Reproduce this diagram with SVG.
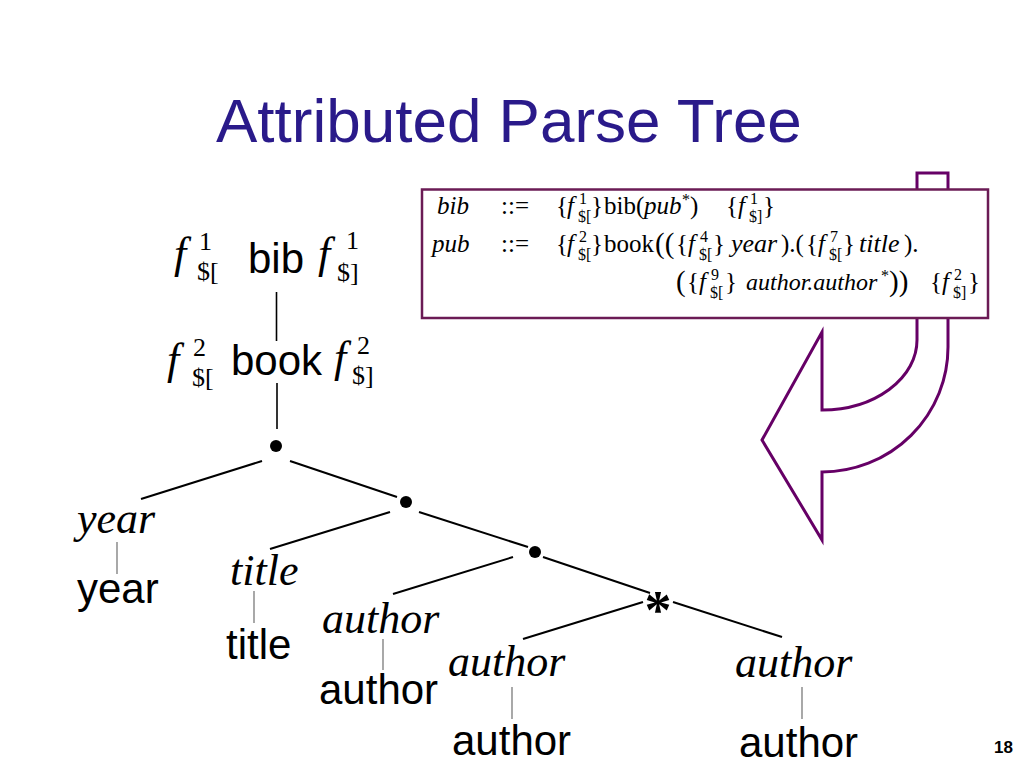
<svg xmlns="http://www.w3.org/2000/svg" width="1024" height="768" viewBox="0 0 1024 768">
<style>
.sans{font-family:"Liberation Sans",Arial,sans-serif;fill:#000}
.lbl{font-size:42px}
.ser{font-family:"Liberation Serif","Times New Roman",serif;fill:#000}
.it{font-style:italic}
.big{font-size:44px}
.g{font-size:25px}
.gi{font-size:26px}
.bp{font-size:29px}
.gs{font-size:16px}
.fs{font-size:26px}
.edge{stroke:#000;stroke-width:2;fill:none}
.stem{stroke:#7a7a7a;stroke-width:1.3;fill:none}
.vstem{stroke:#000;stroke-width:1.6;fill:none}
</style>
<rect width="1024" height="768" fill="#fff"/>

<g id="title">
<text x="216" y="142" font-family="Liberation Sans, Arial, sans-serif" font-size="62" fill="#2A1A8A">Attributed Parse Tree</text>
</g>

<g id="arrow">
<path d="M917,173 L948,173 L948,347 A126,125 0 0 1 822,472 L822,540 L762,440 L822,332 L822,410 A95,70 0 0 0 917,340 Z" fill="#fff" stroke="#660066" stroke-width="3" stroke-linejoin="miter"/>
</g>

<g id="grammar">
<rect x="422" y="189.5" width="566" height="128.5" fill="#fff" stroke="#6B1B55" stroke-width="2.5"/>
<text x="437" y="214" class="ser g it">bib</text>
<text x="501" y="214" class="ser g">::=</text>
<text x="556" y="214" class="ser g">{</text>
<text x="567" y="214" class="ser g it">f</text>
<text x="579" y="204" class="ser gs">1</text>
<text x="578" y="222" class="ser gs">$[</text>
<text x="591" y="214" class="ser g">}</text>
<text x="604" y="214" class="ser g">bib(</text>
<text x="644" y="214" class="ser g it">pub</text>
<text x="682" y="205" class="ser gs">*</text>
<text x="690" y="214" class="ser g">)</text>
<text x="726" y="214" class="ser g">{</text>
<text x="738" y="214" class="ser g it">f</text>
<text x="750" y="204" class="ser gs">1</text>
<text x="749" y="222" class="ser gs">$]</text>
<text x="763" y="214" class="ser g">}</text>

<text x="432" y="252" class="ser g it">pub</text>
<text x="501" y="252" class="ser g">::=</text>
<text x="556" y="252" class="ser g">{</text>
<text x="567" y="252" class="ser g it">f</text>
<text x="579" y="242" class="ser gs">2</text>
<text x="578" y="260" class="ser gs">$[</text>
<text x="591" y="252" class="ser g">}</text>
<text x="604" y="252" class="ser g">book</text>
<text x="655" y="253" class="ser bp">((</text>
<text x="676" y="252" class="ser g">{</text>
<text x="688" y="252" class="ser g it">f</text>
<text x="700" y="242" class="ser gs">4</text>
<text x="699" y="260" class="ser gs">$[</text>
<text x="713" y="252" class="ser g">}</text>
<text x="731" y="252" class="ser gi it">year</text>
<text x="781" y="252" class="ser g">).(</text>
<text x="806" y="252" class="ser g">{</text>
<text x="818" y="252" class="ser g it">f</text>
<text x="830" y="242" class="ser gs">7</text>
<text x="829" y="260" class="ser gs">$[</text>
<text x="843" y="252" class="ser g">}</text>
<text x="859" y="252" class="ser gi it">title</text>
<text x="904" y="252" class="ser g">).</text>

<text x="676" y="291" class="ser bp">(</text>
<text x="687" y="290" class="ser g">{</text>
<text x="699" y="290" class="ser g it">f</text>
<text x="711" y="280" class="ser gs">9</text>
<text x="710" y="298" class="ser gs">$[</text>
<text x="725" y="290" class="ser g">}</text>
<text x="746" y="290" class="ser it" font-size="24">author.author</text>
<text x="881" y="281" class="ser gs">*</text>
<text x="889" y="291" class="ser bp">))</text>
<text x="930" y="290" class="ser g">{</text>
<text x="942" y="290" class="ser g it">f</text>
<text x="954" y="280" class="ser gs">2</text>
<text x="953" y="298" class="ser gs">$]</text>
<text x="968" y="290" class="ser g">}</text>
</g>

<g id="connectors">
<line class="vstem" x1="276.5" y1="292" x2="276.5" y2="341"/>
<line class="vstem" x1="277" y1="383" x2="277" y2="429"/>
<line class="edge" x1="262" y1="461" x2="141" y2="499"/>
<line class="edge" x1="290" y1="461" x2="397" y2="497"/>
<line class="edge" x1="390" y1="512" x2="270" y2="549"/>
<line class="edge" x1="419" y1="512" x2="528" y2="547"/>
<line class="edge" x1="513" y1="557" x2="393" y2="594"/>
<line class="edge" x1="543" y1="557" x2="650" y2="593"/>
<line class="edge" x1="643" y1="602" x2="523" y2="639"/>
<line class="edge" x1="673" y1="602" x2="782" y2="637"/>
<line class="stem" x1="117" y1="542" x2="117" y2="574"/>
<line class="stem" x1="254" y1="591" x2="254" y2="623"/>
<line class="stem" x1="383" y1="639" x2="383" y2="670"/>
<line class="stem" x1="512" y1="687" x2="512" y2="719"/>
<line class="stem" x1="802" y1="687" x2="802" y2="719"/>
</g>

<g id="node-bib">
<text x="174" y="268" class="ser it big">f</text>
<text x="199" y="250" class="ser fs">1</text>
<text x="197" y="280" class="ser fs">$[</text>
<text x="248" y="273" class="sans lbl">bib</text>
<text x="318" y="268" class="ser it big">f</text>
<text x="346" y="249" class="ser fs">1</text>
<text x="337" y="281" class="ser fs">$]</text>
</g>

<g id="node-book">
<text x="167" y="374" class="ser it big">f</text>
<text x="193" y="356" class="ser fs">2</text>
<text x="192" y="386" class="ser fs">$[</text>
<text x="231" y="375" class="sans lbl">book</text>
<text x="334" y="372" class="ser it big">f</text>
<text x="357" y="354" class="ser fs">2</text>
<text x="352" y="384" class="ser fs">$]</text>
</g>

<g id="node-dot1"><circle cx="276" cy="446" r="6"/></g>
<g id="node-dot2"><circle cx="406" cy="502" r="6"/></g>
<g id="node-dot3"><circle cx="535" cy="552" r="6"/></g>
<g id="node-star"><text x="658" y="628" text-anchor="middle" class="ser" font-size="54" font-weight="bold">*</text></g>

<g id="node-year">
<text x="77" y="533" class="ser it big">year</text>
<text x="77" y="603" class="sans lbl">year</text>
</g>
<g id="node-title">
<text x="230" y="585" class="ser it big">title</text>
<text x="226" y="659" class="sans lbl">title</text>
</g>
<g id="node-author1">
<text x="322" y="633" class="ser it big">author</text>
<text x="319" y="704" class="sans lbl">author</text>
</g>
<g id="node-author2">
<text x="448" y="676" class="ser it big">author</text>
<text x="452" y="755" class="sans lbl">author</text>
</g>
<g id="node-author3">
<text x="735" y="677" class="ser it big">author</text>
<text x="739" y="757" class="sans lbl">author</text>
</g>

<g id="page-number">
<text x="1013" y="753" text-anchor="end" font-family="Liberation Sans, Arial, sans-serif" font-size="17" font-weight="bold" fill="#000">18</text>
</g>
</svg>
